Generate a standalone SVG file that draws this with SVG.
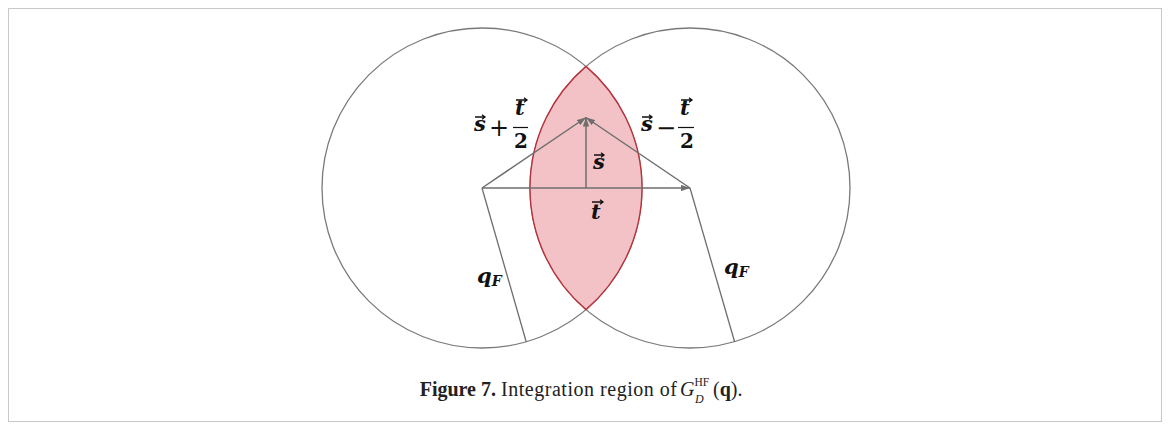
<svg xmlns="http://www.w3.org/2000/svg" width="1170" height="430" viewBox="0 0 1170 430">
<style>
.frame{fill:#fff;stroke:#c8c8c8;stroke-width:1}
.circ{fill:none;stroke:#7a7a7a;stroke-width:1.3}
.lens{fill:#f2c2c6;stroke:#b8323a;stroke-width:1.4}
.vec{fill:none;stroke:#6e6e6e;stroke-width:1.5}
.ln{fill:none;stroke:#6e6e6e;stroke-width:1.3}
.acc{fill:none;stroke:#111;stroke-width:1.3}
.m{font-family:"DejaVu Serif","Liberation Serif",serif;font-weight:bold;font-style:italic;font-size:21px;fill:#111}
.d{font-family:"DejaVu Serif","Liberation Serif",serif;font-weight:bold;font-size:20px;fill:#111}
.op{font-family:"DejaVu Serif","Liberation Serif",serif;font-size:24px;fill:#111}
.cap{font-family:"Liberation Serif","Times New Roman",serif;font-size:20px;fill:#222}
</style>
<defs>
<marker id="ah" viewBox="0 0 10 7" refX="10" refY="3.5" markerWidth="9" markerHeight="6.3" markerUnits="userSpaceOnUse" orient="auto">
<path d="M0,0 L10,3.5 L0,7 z" fill="#6e6e6e"/>
</marker>
</defs>
<rect class="frame" x="8.5" y="8.5" width="1153" height="413"/>
<g id="circle-left"><circle class="circ" cx="482" cy="188" r="160"/></g>
<g id="circle-right"><circle class="circ" cx="690" cy="188" r="160"/></g>
<g id="lens"><path class="lens" d="M586,66.4 A160,160 0 0 1 586,309.6 A160,160 0 0 1 586,66.4 Z"/></g>
<g id="connectors">
<line class="vec" x1="482" y1="188" x2="586" y2="117.5" marker-end="url(#ah)"/>
<line class="vec" x1="690" y1="188" x2="586" y2="117.5" marker-end="url(#ah)"/>
<line class="vec" x1="586" y1="188" x2="586" y2="117.5" marker-end="url(#ah)"/>
<line class="vec" x1="482" y1="188" x2="690" y2="188" marker-end="url(#ah)"/>
<line class="ln" x1="482" y1="188" x2="526.2" y2="341.8"/>
<line class="ln" x1="690" y1="188" x2="734.6" y2="341.8"/>
</g>
<g id="label-s-plus">
<text class="m" x="474" y="131">s</text>
<path class="acc" d="M475,117 H485 M482,114.8 L485,117 L482,119.2"/>
<text class="op" x="489" y="135.5">+</text>
<text class="m" x="515" y="115">t</text>
<path class="acc" d="M516,100 H527 M524,97.8 L527,100 L524,102.2"/>
<line x1="513" y1="127.5" x2="528" y2="127.5" stroke="#111" stroke-width="1.2"/>
<text class="d" x="514" y="148">2</text>
</g>
<g id="label-s-minus">
<text class="m" x="641" y="131">s</text>
<path class="acc" d="M642,117 H652 M649,114.8 L652,117 L649,119.2"/>
<text class="op" x="656" y="135.5">−</text>
<text class="m" x="680" y="115">t</text>
<path class="acc" d="M681,100 H692 M689,97.8 L692,100 L689,102.2"/>
<line x1="678" y1="127.5" x2="694" y2="127.5" stroke="#111" stroke-width="1.2"/>
<text class="d" x="680" y="148">2</text>
</g>
<g id="label-s">
<text class="m" x="593" y="169">s</text>
<path class="acc" d="M594,155 H604 M601,152.8 L604,155 L601,157.2"/>
</g>
<g id="label-t">
<text class="m" x="591" y="219">t</text>
<path class="acc" d="M592,202 H603 M600,199.8 L603,202 L600,204.2"/>
</g>
<g id="label-qf-left">
<text class="m" x="477" y="283">q<tspan font-size="14" dy="3">F</tspan></text>
</g>
<g id="label-qf-right">
<text class="m" x="724" y="274">q<tspan font-size="14" dy="3">F</tspan></text>
</g>
<g id="caption">
<text class="cap" x="496" y="396" text-anchor="end" font-weight="bold">Figure 7.</text>
<text class="cap" x="501" y="396" textLength="176" lengthAdjust="spacing">Integration region of</text>
<text class="cap" x="680" y="396"><tspan font-style="italic">G</tspan><tspan font-size="11.5" dy="-10">HF</tspan><tspan font-size="12" font-style="italic" dx="-14.1" dy="17">D</tspan><tspan dx="9.3" dy="-7">(<tspan font-weight="bold">q</tspan>).</tspan></text>
</g>
</svg>
